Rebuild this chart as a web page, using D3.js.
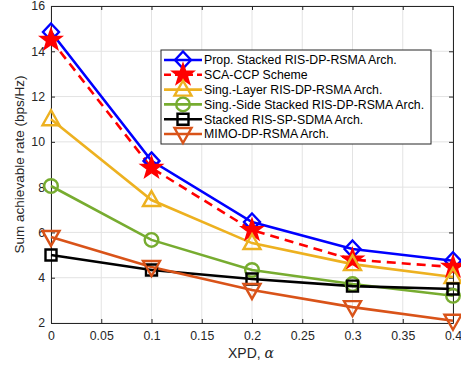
<!DOCTYPE html>
<html><head><meta charset="utf-8">
<script src="https://cdn.jsdelivr.net/npm/d3@7"></script>
<style>body{margin:0;background:#fff}svg{display:block}text{font-family:"Liberation Sans",Arial,sans-serif}</style>
</head><body><svg id="c" width="461" height="366"></svg>
<script>
const xpd = [0, 0.1, 0.2, 0.3, 0.4];
const propStacked = [14.85, 9.16, 6.46, 5.27, 4.75];
const scaCcp = [14.5, 8.85, 6.1, 4.8, 4.47];
const singLayer = [11.0, 7.43, 5.53, 4.6, 4.03];
const singSide = [8.05, 5.67, 4.34, 3.72, 3.2];
const stackedSdma = [5.0, 4.34, 3.94, 3.63, 3.5];
const mimo = [5.8, 4.47, 3.46, 2.7, 2.1];
const seriesNames = ["Prop. Stacked RIS-DP-RSMA Arch.", "SCA-CCP Scheme", "Sing.-Layer RIS-DP-RSMA Arch.", "Sing.-Side Stacked RIS-DP-RSMA Arch.", "Stacked RIS-SP-SDMA Arch.", "MIMO-DP-RSMA Arch."];
const xTicks = [0, 0.05, 0.1, 0.15, 0.2, 0.25, 0.3, 0.35, 0.4];
const yTicks = [2, 4, 6, 8, 10, 12, 14, 16];

const series = [
  {name: seriesNames[0], vals: propStacked, color: "#0000FF", marker: "diamond", dash: null},
  {name: seriesNames[1], vals: scaCcp, color: "#FF0000", marker: "star", dash: "9,6"},
  {name: seriesNames[2], vals: singLayer, color: "#EDB120", marker: "tri", dash: null},
  {name: seriesNames[3], vals: singSide, color: "#77AC30", marker: "circle", dash: null},
  {name: seriesNames[4], vals: stackedSdma, color: "#000000", marker: "square", dash: null},
  {name: seriesNames[5], vals: mimo, color: "#D95319", marker: "tridown", dash: null},
];

const svg = d3.select("#c");
const L = 51, R = 453, T = 6, B = 323;
const x = d3.scaleLinear().domain([0, 0.4]).range([L, R]);
const y = d3.scaleLinear().domain([2, 16]).range([B, T]);
const FF = '"Liberation Sans",Arial,sans-serif';

// grid
const g = svg.append("g");
g.selectAll(".gx").data(xTicks).enter().append("line")
  .attr("x1", d => x(d)).attr("x2", d => x(d)).attr("y1", T).attr("y2", B)
  .attr("stroke", "#e3e3e3").attr("stroke-width", 1);
g.selectAll(".gy").data(yTicks).enter().append("line")
  .attr("y1", d => y(d)).attr("y2", d => y(d)).attr("x1", L).attr("x2", R)
  .attr("stroke", "#e3e3e3").attr("stroke-width", 1);

// axes
const axC = "#262626";
const xAxis = svg.append("g").attr("transform", `translate(0,${B})`)
  .call(d3.axisBottom(x).tickValues(xTicks).tickSizeInner(-4).tickSizeOuter(0).tickPadding(8).tickFormat(d => d3.format("~g")(d)));
const yAxis = svg.append("g").attr("transform", `translate(${L},0)`)
  .call(d3.axisLeft(y).tickValues(yTicks).tickSizeInner(-4).tickSizeOuter(0).tickPadding(6));
const xAxisTop = svg.append("g").attr("transform", `translate(0,${T})`)
  .call(d3.axisTop(x).tickValues(xTicks).tickSizeInner(-4).tickSizeOuter(0).tickFormat(""));
const yAxisR = svg.append("g").attr("transform", `translate(${R},0)`)
  .call(d3.axisRight(y).tickValues(yTicks).tickSizeInner(-4).tickSizeOuter(0).tickFormat(""));
[xAxis, yAxis, xAxisTop, yAxisR].forEach(a => {
  a.select(".domain").attr("stroke", axC).attr("stroke-width", 1);
  a.selectAll(".tick line").attr("stroke", axC);
  a.selectAll("text").attr("fill", axC).style("font-size", "12.3px").style("font-family", FF);
});

// labels
const xl = svg.append("text").attr("x", 251).attr("y", 358).attr("text-anchor", "middle")
  .attr("fill", axC).style("font-size", "14px");
xl.append("tspan").text("XPD, ");
xl.append("tspan").text("α").style("font-style", "italic").style("font-family", '"DejaVu Serif",serif');
svg.append("text").attr("transform", `translate(24,${(T + B) / 2}) rotate(-90)`).attr("text-anchor", "middle")
  .attr("fill", axC).style("font-size", "13.5px").text("Sum achievable rate (bps/Hz)");

// markers
function markerPath(type) {
  switch (type) {
    case "diamond": return "M0,-8.5L8,0L0,8.5L-8,0Z";
    case "square": return "M-5.5,-5.5H5.5V5.5H-5.5Z";
    case "tri": return "M0,-9L8.5,6H-8.5Z";
    case "tridown": return "M0,9L8.5,-6H-8.5Z";
    case "circle": return d3.symbol(d3.symbolCircle, Math.PI * 6.8 * 6.8)();
    case "star": {
      let p = [];
      for (let i = 0; i < 10; i++) {
        const r = i % 2 === 0 ? 10 : 4;
        const a = -Math.PI / 2 + i * Math.PI / 5;
        p.push([r * Math.cos(a), r * Math.sin(a)]);
      }
      return "M" + p.map(q => q.join(",")).join("L") + "Z";
    }
  }
}

const line = d3.line().x((d, i) => x(xpd[i])).y(d => y(d));
const plot = svg.append("g");
series.forEach(s => {
  plot.append("path").attr("d", line(s.vals)).attr("fill", "none").attr("stroke", s.color)
    .attr("stroke-width", 2.6).attr("stroke-dasharray", s.dash);
});
series.forEach(s => {
  plot.selectAll(null).data(s.vals).enter().append("path")
    .attr("transform", (d, i) => `translate(${x(xpd[i])},${y(d)})`)
    .attr("d", markerPath(s.marker))
    .attr("fill", s.marker === "star" ? s.color : "none")
    .attr("stroke", s.color).attr("stroke-width", 2.4).attr("stroke-linejoin", "miter");
});

// legend
const lg = svg.append("g");
const lx = 161, ly = 50, lw = 270, lh = 94, rowH = 14.8;
lg.append("rect").attr("x", lx).attr("y", ly).attr("width", lw).attr("height", lh)
  .attr("fill", "#fff").attr("stroke", axC).attr("stroke-width", 1);
series.forEach((s, i) => {
  const cy = ly + 10 + i * rowH;
  lg.append("line").attr("x1", lx + 3).attr("x2", lx + 41).attr("y1", cy).attr("y2", cy)
    .attr("stroke", s.color).attr("stroke-width", 2.6).attr("stroke-dasharray", s.dash ? "7,4" : null);
  lg.append("path").attr("transform", `translate(${lx + 22},${cy})`).attr("d", markerPath(s.marker))
    .attr("fill", s.marker === "star" ? s.color : "none").attr("stroke", s.color).attr("stroke-width", 2.4);
  lg.append("text").attr("x", lx + 43).attr("y", cy + 4.3).attr("fill", "#000").style("font-size", "12.3px").style("font-family", FF).text(s.name);
});
</script></body></html>
